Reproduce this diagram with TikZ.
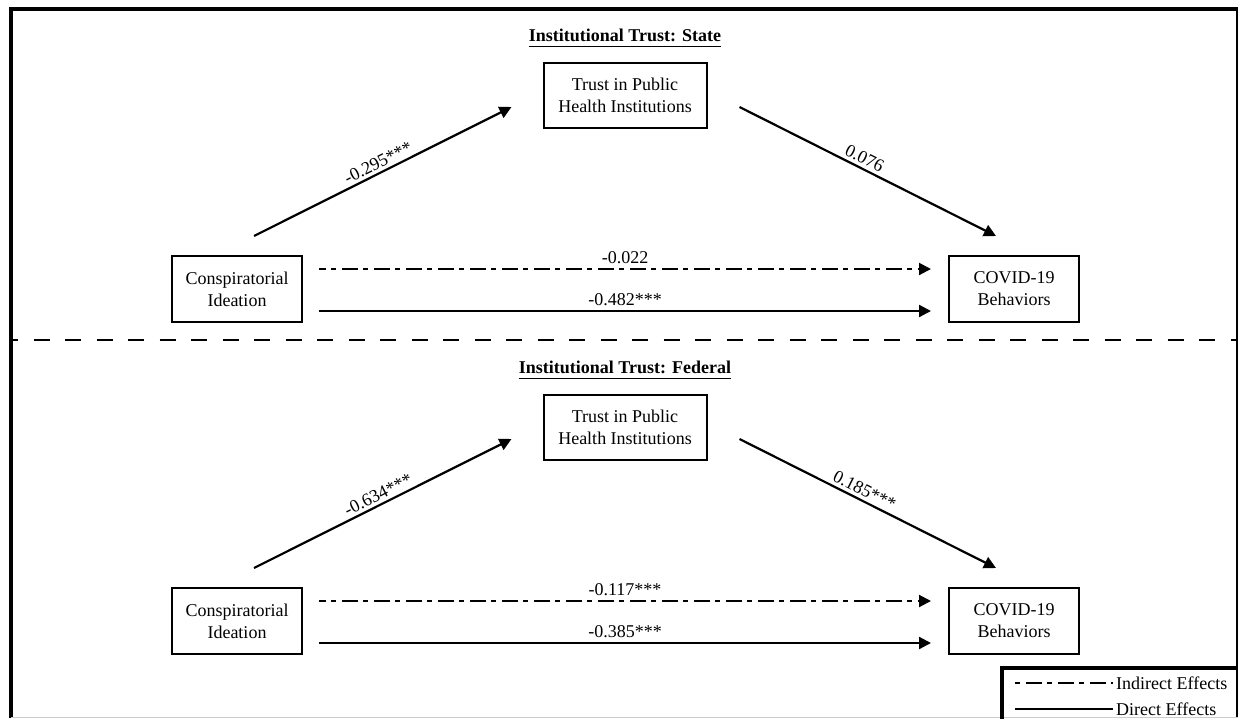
\documentclass[tikz,border=0pt]{standalone}
\usepackage{fontspec}
\setmainfont{Liberation Serif}
\usetikzlibrary{arrows.meta,calc}
\begin{document}
\begin{tikzpicture}[x=1pt,y=-1pt,
  every node/.style={font=\fontsize{18}{22}\selectfont},
  box/.style={draw,line width=2pt,align=center,inner sep=0pt},
  ttl/.style={font=\fontsize{18}{22}\selectfont\bfseries,inner sep=0pt},
  arr/.style={line width=2.2pt,-{Triangle[length=12pt,width=12pt]}},
  dd/.style={line width=2pt,dash pattern=on 16pt off 5pt on 5pt off 6pt,dash phase=9pt},
  lab/.style={inner sep=4pt},
  trustbox/.style={box,minimum width=163pt,minimum height=65pt},
  sidebox/.style={box,minimum width=130pt,minimum height=66pt},
  uline/.style={line width=1.5pt},
]
\useasboundingbox (0,0) rectangle (1238,718);
\fill[white] (0,0) rectangle (1238,718);

% frame
\draw[line width=4pt] (11,718) -- (11,9) -- (1238,9);
\draw[line width=1.5pt] (1237,9) -- (1237,718);
\draw[gray!40,line width=1pt] (11,717.5) -- (1238,717.5);

% separator
\draw[line width=2.5pt,dash pattern=on 16pt off 15.5pt,dash phase=9pt] (11,340) -- (1238,340);

% ---------- panel 1 ----------
\node[ttl] (h1) at (625,35) {Institutional Trust: State};
\draw[uline] ($(h1.base west)+(0,5.5)$) -- ($(h1.base east)+(0,5.5)$);
\node[trustbox] (t1) at (625,95.5) {Trust in Public\\Health Institutions};
\node[sidebox] (c1) at (237,289) {Conspiratorial\\Ideation};
\node[sidebox] (v1) at (1014,289) {COVID-19\\Behaviors};

\draw[arr] ($(c1.north)+(17,-19)$) -- node[lab,above,sloped,inner sep=3pt]{-0.295***} ($(t1.west)+(-31,11.5)$);
\draw[arr] ($(t1.east)+(32,11.5)$) -- node[lab,above,sloped,pos=0.47,inner sep=3pt]{0.076} ($(v1.north)+(-18,-19)$);
\draw[arr,dd] ($(c1.east)+(16,-20)$) -- node[lab,above]{-0.022} ($(v1.west)+(-17,-20)$);
\draw[arr] ($(c1.east)+(16,22)$) -- node[lab,above]{-0.482***} ($(v1.west)+(-17,22)$);

% ---------- panel 2 ----------
\node[ttl] (h2) at (625,367) {Institutional Trust: Federal};
\draw[uline] ($(h2.base west)+(0,5.5)$) -- ($(h2.base east)+(0,5.5)$);
\node[trustbox] (t2) at (625,427.5) {Trust in Public\\Health Institutions};
\node[sidebox] (c2) at (237,621) {Conspiratorial\\Ideation};
\node[sidebox] (v2) at (1014,621) {COVID-19\\Behaviors};

\draw[arr] ($(c2.north)+(17,-19)$) -- node[lab,above,sloped,inner sep=3pt]{-0.634***} ($(t2.west)+(-31,11.5)$);
\draw[arr] ($(t2.east)+(32,11.5)$) -- node[lab,above,sloped,pos=0.47,inner sep=3pt]{0.185***} ($(v2.north)+(-18,-19)$);
\draw[arr,dd] ($(c2.east)+(16,-20)$) -- node[lab,above]{-0.117***} ($(v2.west)+(-17,-20)$);
\draw[arr] ($(c2.east)+(16,22)$) -- node[lab,above]{-0.385***} ($(v2.west)+(-17,22)$);

% ---------- legend ----------
\draw[line width=3.5pt] (1002,740) -- (1002,668) -- (1250,668);
\coordinate (la) at (1015,683);
\coordinate (lb) at (1113,683);
\coordinate (lc) at (1015,709);
\coordinate (ld) at (1113,709);
\draw[dd,dash phase=21pt] (la) -- (lb);
\draw[line width=2pt] (lc) -- (ld);
\node[anchor=west,inner sep=0pt] (li) at (1116,683) {Indirect Effects};
\node[anchor=west,inner sep=0pt] (ldir) at (1116,709) {Direct Effects};
\end{tikzpicture}
\end{document}
